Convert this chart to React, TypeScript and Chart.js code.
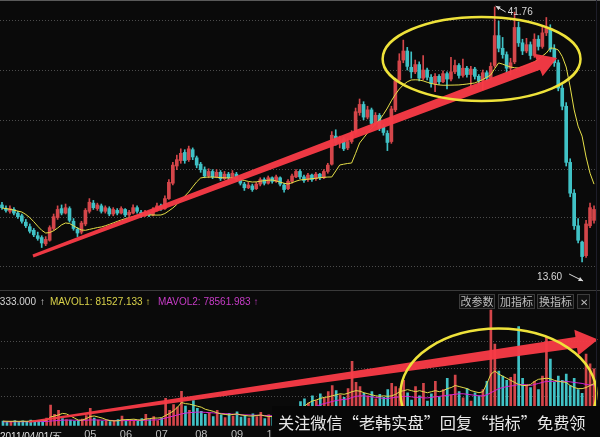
import React, { useEffect, useRef } from "react";
import { Chart, registerables } from "chart.js";
Chart.register(...registerables);

// ---------------- data ----------------
const opens = [
  19.9, 19.5, 19.2, 19.4, 19.0, 18.7, 18.0, 17.5, 17.1, 16.5,
  16.3, 15.6, 16.0, 17.3, 18.5, 19.5, 19.0, 19.5, 18.1, 17.2,
  16.9, 17.8, 19.2, 20.1, 19.5, 19.8, 19.2, 19.5, 18.9, 19.3,
  19.0, 19.4, 18.8, 19.0, 19.6, 19.1, 18.7, 19.1, 18.8, 19.3,
  19.8, 19.5, 20.6, 22.3, 24.2, 24.8, 25.7, 24.9, 26.0, 25.1,
  24.4, 23.8, 23.1, 23.6, 23.0, 23.5, 22.8, 23.3, 22.9, 23.3,
  22.7, 22.2, 21.8, 22.0, 21.7, 22.2, 22.7, 22.3, 22.9, 22.5,
  22.9, 22.1, 21.7, 22.5, 23.0, 23.6, 23.0, 22.7, 23.2, 22.8,
  23.3, 22.9, 23.6, 24.4, 27.5, 26.8, 27.2, 26.2, 26.9, 27.9,
  30.1, 31.0, 29.6, 30.4, 28.9, 29.8, 28.5, 27.8, 26.9, 30.4,
  33.7, 35.9, 36.9, 35.1, 34.6, 35.4, 33.9, 34.8, 34.0, 33.3,
  34.1, 33.5, 34.4, 33.8, 34.6, 35.3, 34.2, 35.0, 34.3, 34.9,
  34.1, 33.6, 34.5, 33.9, 35.3, 38.6, 37.2, 36.5, 35.0, 35.7,
  39.5, 37.8, 36.9, 37.6, 36.4, 38.2, 37.4, 38.9, 39.4, 37.1,
  35.6, 32.8, 30.8, 24.6, 21.2, 17.6, 15.8, 14.3, 17.6, 18.2,
];
const highs = [
  20.2, 19.8, 19.8, 19.6, 19.2, 18.9, 18.3, 17.8, 17.3, 16.9,
  16.5, 16.4, 17.6, 18.9, 19.8, 19.9, 20.0, 19.7, 18.4, 17.4,
  18.1, 19.5, 20.6, 20.4, 20.1, 20.0, 19.8, 19.7, 19.6, 19.5,
  19.7, 19.5, 19.3, 19.9, 19.8, 19.3, 19.3, 19.2, 19.6, 20.1,
  20.0, 20.9, 22.7, 24.6, 25.4, 26.1, 26.0, 26.4, 26.2, 25.3,
  24.6, 24.1, 23.9, 23.8, 23.8, 23.7, 23.6, 23.5, 23.7, 23.5,
  22.9, 22.4, 22.4, 22.2, 22.4, 22.9, 22.9, 23.1, 23.0, 23.2,
  23.0, 22.3, 22.7, 23.3, 23.8, 23.8, 23.2, 23.4, 23.3, 23.5,
  23.4, 23.8, 24.5, 28.0, 28.2, 27.5, 27.4, 27.2, 28.1, 30.6,
  31.6, 31.3, 30.8, 30.6, 30.1, 30.0, 28.8, 28.1, 30.8, 33.9,
  36.6, 38.1, 37.3, 36.8, 35.9, 35.7, 36.4, 35.0, 34.3, 34.4,
  34.3, 34.7, 34.6, 36.2, 35.9, 35.5, 36.0, 35.2, 35.2, 35.1,
  34.3, 34.8, 34.7, 35.6, 41.76, 40.2, 38.4, 36.8, 36.1, 41.2,
  40.1, 38.2, 38.3, 37.9, 38.8, 38.6, 39.6, 40.6, 39.8, 37.6,
  35.9, 33.2, 31.2, 25.0, 21.6, 18.4, 15.9, 18.2, 20.1, 19.8,
];
const lows = [
  19.4, 19.1, 19.0, 18.8, 18.4, 17.9, 17.4, 16.8, 16.4, 16.0,
  15.2, 15.4, 15.9, 17.1, 18.3, 18.8, 18.9, 18.0, 17.1, 16.4,
  16.7, 17.6, 19.0, 19.4, 19.3, 19.0, 19.0, 18.7, 18.7, 18.8,
  18.9, 18.6, 18.6, 18.9, 19.0, 18.5, 18.6, 18.6, 18.7, 19.2,
  19.3, 19.4, 20.5, 22.1, 23.8, 24.5, 24.5, 24.7, 24.9, 24.0,
  23.5, 22.9, 22.9, 22.8, 22.9, 22.6, 22.7, 22.7, 22.8, 22.5,
  22.1, 21.5, 21.7, 21.4, 21.6, 22.0, 22.1, 22.2, 22.3, 22.4,
  22.0, 21.3, 21.6, 22.3, 22.9, 22.8, 22.4, 22.5, 22.5, 22.6,
  22.7, 22.8, 23.4, 24.3, 26.5, 26.2, 25.9, 26.0, 26.7, 27.7,
  29.8, 29.3, 29.4, 28.6, 28.7, 28.1, 27.6, 25.9, 26.7, 30.2,
  33.5, 35.6, 34.8, 33.9, 34.4, 33.6, 33.7, 33.7, 32.9, 32.4,
  33.2, 33.4, 32.7, 33.6, 34.4, 33.9, 34.0, 34.0, 32.8, 33.8,
  33.2, 32.6, 33.6, 33.7, 35.1, 36.8, 36.1, 34.5, 34.3, 35.5,
  37.4, 36.5, 36.7, 36.0, 36.2, 37.0, 37.2, 38.6, 36.8, 35.2,
  32.5, 30.4, 24.2, 20.8, 17.2, 15.7, 13.6, 14.1, 17.4, 17.9,
];
const closes = [
  19.6, 19.3, 19.5, 19.0, 18.6, 18.1, 17.6, 17.0, 16.6, 16.2,
  15.7, 16.1, 17.4, 18.6, 19.4, 19.0, 19.6, 18.2, 17.3, 16.8,
  17.9, 19.3, 20.2, 19.6, 19.9, 19.2, 19.6, 18.9, 19.4, 19.0,
  19.5, 18.8, 19.1, 19.6, 19.2, 18.7, 19.1, 18.8, 19.4, 19.8,
  19.5, 20.6, 22.4, 24.3, 24.9, 25.6, 24.8, 26.1, 25.2, 24.3,
  23.8, 23.1, 23.6, 23.0, 23.5, 22.8, 23.3, 22.9, 23.4, 22.7,
  22.3, 21.8, 22.1, 21.6, 22.2, 22.7, 22.3, 22.9, 22.5, 23.0,
  22.2, 21.6, 22.5, 23.1, 23.6, 23.0, 22.6, 23.2, 22.7, 23.3,
  22.9, 23.6, 24.3, 27.6, 26.8, 27.2, 26.1, 26.9, 27.8, 30.2,
  31.0, 29.6, 30.4, 28.9, 29.8, 28.4, 27.9, 26.8, 30.5, 33.6,
  35.8, 36.9, 35.2, 34.6, 35.4, 33.9, 34.8, 34.0, 33.3, 34.1,
  33.5, 34.4, 33.8, 34.6, 35.3, 34.2, 35.0, 34.3, 34.9, 34.1,
  33.6, 34.5, 33.9, 35.2, 38.6, 37.2, 36.5, 35.0, 35.6, 39.5,
  37.8, 36.9, 37.6, 36.4, 38.2, 37.4, 38.9, 39.4, 37.1, 35.6,
  32.8, 30.8, 24.6, 21.2, 17.6, 16.0, 14.2, 17.8, 19.6, 19.4,
];
const priceMA = [
  19.56, 19.5, 19.42, 19.33, 19.22, 19.12, 18.85, 18.5, 18.05, 17.55,
  17.1, 16.8, 16.85, 17.05, 17.35, 17.7, 17.91, 17.85, 17.6, 17.35,
  17.13, 17.1, 17.2, 17.3, 17.4, 17.47, 17.6, 17.75, 17.92, 18.08,
  18.24, 18.38, 18.5, 18.62, 18.72, 18.79, 18.8, 18.8, 18.79, 18.78,
  18.79, 18.95, 19.25, 19.56, 19.95, 20.4, 20.88, 21.33, 21.9, 22.45,
  22.88, 22.95, 22.98, 22.98, 22.95, 22.92, 22.9, 22.88, 22.88, 22.8,
  22.7, 22.6, 22.5, 22.43, 22.45, 22.52, 22.58, 22.63, 22.66, 22.55,
  22.42, 22.3, 22.21, 22.35, 22.52, 22.66, 22.7, 22.75, 22.8, 22.85,
  22.9, 22.95, 22.98, 22.99, 23.65, 24.31, 24.4, 24.48, 24.53, 25.6,
  26.74, 27.3, 27.85, 28.35, 28.85, 29.28, 29.9, 30.6, 31.4, 32.1,
  32.7, 33.15, 33.5, 33.7, 33.72, 33.7, 33.6, 33.45, 33.32, 33.22,
  33.15, 33.12, 33.12, 33.13, 33.14, 33.15, 33.2, 33.25, 33.31, 33.37,
  33.55, 33.75, 34.0, 34.25, 34.95, 35.58, 35.45, 35.28, 35.13, 35.05,
  35.02, 35.15, 35.3, 35.5, 35.69, 36.0, 36.35, 36.68, 37.23, 37.2,
  37.01, 36.3, 35.13, 32.92, 30.39, 28.6, 27.5, 25.2, 23.4, 22.2,
];
const volumes = [
  9000, 7000, 8500, 10000, 7500, 9500, 8000, 11000, 9000, 10500,
  12000, 15000, 40000, 22000, 30000, 14000, 12000, 11000, 9000, 10000,
  13000, 20000, 34000, 15000, 11000, 9000, 10000, 8000, 9500, 12000,
  19000, 10000, 9000, 11000, 8500, 14000, 22000, 12000, 18000, 10000,
  15000, 53000, 30000, 41000, 36000, 66500, 38000, 30000, 49000, 34000,
  28000, 22000, 25000, 18000, 30000, 21000, 16000, 24000, 19000, 27000,
  17000, 20000, 15000, 23000, 18000, 26000, 14000, 21000, 17000, 12000,
  15000, 19000, 22000, 28000, 34000, 47000, 52000, 44000, 58000, 49000,
  62000, 54000, 66000, 78000, 68000, 60000, 55000, 72000, 125000, 84000,
  76000, 63000, 58000, 66000, 52000, 61000, 55000, 70000, 82000, 76000,
  72000, 88000, 64000, 50000, 76000, 58000, 82000, 48000, 62000, 86000,
  56000, 70000, 92000, 60000, 98000, 66000, 54000, 72000, 48000, 64000,
  58000, 70000, 86000, 224000, 158000, 106000, 96000, 88000, 94000, 100000,
  192000, 92000, 80000, 74000, 86000, 70000, 96000, 173000, 129000, 84000,
  96000, 88000, 100000, 78000, 92000, 70000, 63000, 139000, 120000, 110333,
];
const volMA1 = [
  9000, 8800, 8700, 8800, 8600, 8900, 8700, 9200, 9400, 9800,
  10200, 11000, 17000, 19000, 21000, 24000, 23000, 19000, 15000, 11000,
  11000, 14000, 18000, 19000, 17000, 15000, 12000, 10000, 9500, 9700,
  11500, 12000, 12200, 12800, 11500, 11000, 13000, 14000, 15000, 15000,
  15800, 20000, 24000, 29000, 36000, 45000, 43000, 42000, 40000, 38000,
  36000, 32000, 30000, 28000, 25000, 23000, 22000, 21000, 22000, 23000,
  21000, 20000, 19000, 19000, 20000, 21000, 19000, 18000, 18000, 17000,
  16000, 17000, 18000, 20000, 24000, 30000, 38000, 44000, 48000, 50000,
  53000, 55000, 56000, 58000, 60000, 62000, 61000, 63000, 66000, 68000,
  67000, 64000, 62000, 60000, 58000, 57000, 58000, 57000, 58000, 61000,
  66000, 68000, 70000, 68000, 66000, 68000, 66000, 64000, 66000, 68000,
  66000, 68000, 72000, 74000, 78000, 76000, 74000, 72000, 68000, 66000,
  64000, 66000, 82000, 100000, 106000, 100000, 96000, 92000, 88000, 84000,
  80000, 78000, 78000, 80000, 86000, 90000, 91000, 92000, 91000, 88000,
  86000, 85000, 84000, 78000, 74000, 72000, 72000, 74000, 78000, 81527.133,
];
const volMA2 = [
  7600, 7700, 7700, 7800, 7800, 7900, 7900, 8000, 8000, 8100,
  8200, 8400, 9200, 9800, 10400, 10800, 11000, 11000, 10800, 10600,
  10600, 10800, 11200, 11400, 11200, 11000, 10800, 10500, 10200, 10000,
  10000, 10100, 10200, 10300, 10400, 10500, 10800, 11000, 11300, 11600,
  13000, 15000, 17000, 19000, 21000, 23000, 24500, 25500, 26000, 26500,
  26500, 26000, 25500, 25000, 24500, 24000, 23500, 23000, 22500, 22000,
  21500, 21000, 21000, 20500, 20500, 20000, 20000, 19500, 19500, 19000,
  19000, 19500, 20000, 21000, 23000, 26000, 29000, 32000, 35000, 38000,
  41000, 43000, 45000, 47000, 49000, 50000, 51000, 52000, 55000, 57000,
  58000, 58000, 57000, 56000, 55000, 54000, 53000, 53000, 54000, 55000,
  56000, 57000, 57000, 56000, 55000, 55000, 54000, 54000, 55000, 56000,
  57000, 58000, 59000, 60000, 61000, 62000, 62000, 61000, 60000, 59000,
  58000, 58000, 60000, 64000, 68000, 72000, 74000, 76000, 77000, 78000,
  80000, 80000, 79000, 78000, 80000, 82000, 84000, 86000, 86000, 86000,
  86000, 86000, 86000, 85000, 84000, 83000, 82000, 80000, 79000, 78561.983,
];
const categories = opens.map((_, i) => String(i));
const monthTickIndex = [22, 31, 40, 50, 59, 68];
const monthTickLabels = ["05", "06", "07", "08", "09", "10"];
const priceGrid = [40.32, 34.8, 29.17, 23.76, 18.46, 13.05];
const volGrid = [57000, 110200, 163400];
const firstDateLabel = "2011/04/01/五";
const watermark = "关注微信“老韩实盘”回复“指标”免费领";
const buttonLabels = ["改参数", "加指标", "换指标", "✕"];

// ---------------- styling ----------------
const UP = "rgb(212,70,74)";
const DOWN = "rgb(64,194,198)";
const ARROW = "rgba(247,58,70,0.96)";
const OVAL = "#eee23a";
const candleColors = closes.map((c, i) => (c >= opens[i] ? UP : DOWN));

function drawArrow(ctx: CanvasRenderingContext2D, x0: number, y0: number, x1: number, y1: number, w0: number, w1: number, headW: number, headL: number) {
  const dx = x1 - x0, dy = y1 - y0, len = Math.hypot(dx, dy);
  const ux = dx / len, uy = dy / len, nx = -uy, ny = ux;
  const bx = x1 - ux * headL, by = y1 - uy * headL;
  ctx.beginPath();
  ctx.moveTo(x0 + (nx * w0) / 2, y0 + (ny * w0) / 2);
  ctx.lineTo(bx + (nx * w1) / 2, by + (ny * w1) / 2);
  ctx.lineTo(bx + (nx * headW) / 2, by + (ny * headW) / 2);
  ctx.lineTo(x1, y1);
  ctx.lineTo(bx - (nx * headW) / 2, by - (ny * headW) / 2);
  ctx.lineTo(bx - (nx * w1) / 2, by - (ny * w1) / 2);
  ctx.lineTo(x0 - (nx * w0) / 2, y0 - (ny * w0) / 2);
  ctx.closePath();
  ctx.fillStyle = ARROW;
  ctx.fill();
}

function drawSmallArrow(ctx: CanvasRenderingContext2D, x0: number, y0: number, x1: number, y1: number) {
  ctx.strokeStyle = "#d8d8d8";
  ctx.fillStyle = "#d8d8d8";
  ctx.lineWidth = 1;
  ctx.beginPath();
  ctx.moveTo(x0, y0);
  ctx.lineTo(x1, y1);
  ctx.stroke();
  const a = Math.atan2(y1 - y0, x1 - x0);
  ctx.beginPath();
  ctx.moveTo(x1, y1);
  ctx.lineTo(x1 - 5 * Math.cos(a - 0.45), y1 - 5 * Math.sin(a - 0.45));
  ctx.lineTo(x1 - 5 * Math.cos(a + 0.45), y1 - 5 * Math.sin(a + 0.45));
  ctx.closePath();
  ctx.fill();
}

const priceAnnot = {
  id: "priceAnnot",
  afterDatasetsDraw(chart: any) {
    const { ctx, scales } = chart;
    const x = scales.x, y = scales.y;
    ctx.save();
    drawArrow(ctx, x.getPixelForValue(7.8), y.getPixelForValue(14.26), x.getPixelForValue(139.7), y.getPixelForValue(36.13), 3, 10, 24, 20);
    const cx = x.getPixelForValue(120.7), cy = y.getPixelForValue(36.02);
    const rx = x.getPixelForValue(120.7 + 24.9) - cx;
    const ry = y.getPixelForValue(36.02 - 4.64) - cy;
    ctx.beginPath();
    ctx.ellipse(cx, cy, rx, ry, 0, 0, Math.PI * 2);
    ctx.strokeStyle = OVAL;
    ctx.lineWidth = 2.5;
    ctx.stroke();
    const hi = Math.max(...highs), lo = Math.min(...lows);
    const hiI = highs.indexOf(hi), loI = lows.indexOf(lo);
    const hx = x.getPixelForValue(hiI), hy = y.getPixelForValue(hi);
    const lx = x.getPixelForValue(loI), ly = y.getPixelForValue(lo);
    ctx.font = "10px 'Liberation Sans', Arial, sans-serif";
    ctx.fillStyle = "#d8d8d8";
    ctx.textBaseline = "middle";
    ctx.textAlign = "left";
    ctx.fillText(hi.toFixed(2), hx + 13, hy + 5);
    drawSmallArrow(ctx, hx + 11, hy + 5, hx + 1, hy - 1);
    ctx.fillStyle = "#d8d8d8";
    ctx.textAlign = "right";
    ctx.fillText(lo.toFixed(2), lx - 20, ly + 15);
    drawSmallArrow(ctx, lx - 13, ly + 12, lx + 1, ly + 19);
    ctx.restore();
  },
};

const volAnnot = {
  id: "volAnnot",
  afterDatasetsDraw(chart: any) {
    const { ctx, scales } = chart;
    const x = scales.x, y = scales.y;
    ctx.save();
    drawArrow(ctx, x.getPixelForValue(6.5), y.getPixelForValue(7600), x.getPixelForValue(150.0), y.getPixelForValue(167200), 2, 11, 26, 22);
    const cx = x.getPixelForValue(124.9), cy = y.getPixelForValue(62700);
    const rx = x.getPixelForValue(124.9 + 24.7) - cx;
    const ry = y.getPixelForValue(62700 - 125400) - cy;
    ctx.beginPath();
    ctx.ellipse(cx, cy, rx, ry, 0, 0, Math.PI * 2);
    ctx.strokeStyle = OVAL;
    ctx.lineWidth = 2.5;
    ctx.stroke();
    ctx.restore();
  },
};

export default function App() {
  const priceRef = useRef<HTMLCanvasElement>(null);
  const volRef = useRef<HTMLCanvasElement>(null);

  useEffect(() => {
    const bodies = opens.map((o, i) => [Math.min(o, closes[i]), Math.max(o, closes[i])]);
    const wicks = lows.map((l, i) => [l, highs[i]]);
    const priceChart = new Chart(priceRef.current as HTMLCanvasElement, {
      type: "bar",
      data: {
        labels: categories,
        datasets: [
          { type: "line", data: priceMA, borderColor: "#e6df48", borderWidth: 1, pointRadius: 0, tension: 0, order: 0 } as any,
          { data: bodies as any, backgroundColor: candleColors, barThickness: 3, grouped: false, borderWidth: 0, order: 1 },
          { data: wicks as any, backgroundColor: candleColors, barThickness: 1, grouped: false, borderWidth: 0, order: 2 },
        ],
      },
      options: {
        animation: false,
        responsive: false,
        maintainAspectRatio: false,
        layout: { padding: { top: 2, bottom: 5, left: 0, right: 4 } },
        plugins: { legend: { display: false }, tooltip: { enabled: false } },
        scales: {
          x: { display: false },
          y: {
            min: 11.06,
            max: 42.31,
            ticks: { display: false },
            grid: { color: "#4c4c4c", drawTicks: false, lineWidth: 1 },
            border: { display: false, dash: [1, 2] },
            afterBuildTicks: (s: any) => {
              s.ticks = priceGrid.map((v) => ({ value: v }));
            },
          },
        },
      },
      plugins: [priceAnnot],
    });

    const volChart = new Chart(volRef.current as HTMLCanvasElement, {
      type: "bar",
      data: {
        labels: categories,
        datasets: [
          { type: "line", data: volMA1, borderColor: "#e4dc4a", borderWidth: 1, pointRadius: 0, tension: 0, order: 0 } as any,
          { type: "line", data: volMA2, borderColor: "#d424d4", borderWidth: 1, pointRadius: 0, tension: 0, order: 1 } as any,
          { data: volumes, backgroundColor: candleColors, barThickness: 2, borderWidth: 0, order: 2 },
        ],
      },
      options: {
        animation: false,
        responsive: false,
        maintainAspectRatio: false,
        layout: { padding: { top: 16, bottom: 2, left: 0, right: 4 } },
        plugins: { legend: { display: false }, tooltip: { enabled: false } },
        scales: {
          x: {
            grid: { display: false, drawTicks: false },
            border: { display: false },
            ticks: {
              autoSkip: false,
              maxRotation: 0,
              padding: 3,
              color: "#bcbcbc",
              font: { size: 11, family: "'Liberation Sans', Arial, sans-serif" },
              callback: (_v: any, idx: number) => {
                const k = monthTickIndex.indexOf(idx);
                return k >= 0 ? monthTickLabels[k] : "";
              },
            },
          },
          y: {
            min: 0,
            max: 228000,
            ticks: { display: false },
            grid: { color: "#4c4c4c", drawTicks: false, lineWidth: 1 },
            border: { display: false, dash: [1, 2] },
            afterBuildTicks: (s: any) => {
              s.ticks = volGrid.map((v) => ({ value: v }));
            },
          },
        },
      },
      plugins: [volAnnot],
    });

    return () => {
      priceChart.destroy();
      volChart.destroy();
    };
  }, []);

  const last = volumes.length - 1;
  const sans = "'Liberation Sans', Arial, sans-serif";
  const cjk = "'Noto Sans CJK SC', sans-serif";
  const btnPos = [
    { l: 459, w: 36 },
    { l: 498, w: 37 },
    { l: 537, w: 37 },
    { l: 577, w: 13 },
  ];

  return (
    <div style={{ position: "fixed", left: 0, top: 0, width: 600, height: 437, background: "#0a0a0a", overflow: "hidden" }}>
      <canvas ref={priceRef} width={600} height={290} style={{ position: "absolute", left: 0, top: 0 }} />
      <canvas ref={volRef} width={600} height={155} style={{ position: "absolute", left: 0, top: 292 }} />
      <div style={{ position: "absolute", left: 0, top: 0, width: 600, height: 1, background: "#5a5a5a" }} />
      <div style={{ position: "absolute", left: 0, top: 290, width: 600, height: 1, background: "#3a3a3a" }} />
      <div style={{ position: "absolute", left: 596, top: 0, width: 1, height: 437, background: "#1e1e2a" }} />
      <div style={{ position: "absolute", left: 0, top: 296, width: 36, height: 14, overflow: "hidden", font: `10px ${sans}` }}>
        <div style={{ position: "absolute", right: 0, top: 0, whiteSpace: "nowrap", color: "#d6d6d6" }}>
          {"VOLUME: " + volumes[last].toFixed(3)}
        </div>
      </div>
      <div style={{ position: "absolute", left: 40, top: 296, font: `10px ${sans}`, color: "#d6d6d6" }}>↑</div>
      <div style={{ position: "absolute", left: 50, top: 296, font: `10px ${sans}`, color: "#d9d24a", whiteSpace: "nowrap" }}>
        {"MAVOL1: " + volMA1[last].toFixed(3) + "  ↑"}
      </div>
      <div style={{ position: "absolute", left: 158, top: 296, font: `10px ${sans}`, color: "#c73cc7", whiteSpace: "nowrap" }}>
        {"MAVOL2: " + volMA2[last].toFixed(3) + "  ↑"}
      </div>
      {buttonLabels.map((t, i) => (
        <div
          key={t}
          style={{
            position: "absolute",
            left: btnPos[i].l,
            top: 294,
            width: btnPos[i].w,
            height: 15,
            boxSizing: "border-box",
            border: "1px solid #3c3c3c",
            background: "#111111",
            color: "#bdbdbd",
            font: `${i === 3 ? 10 : 11}px ${cjk}`,
            lineHeight: "13px",
            textAlign: "center",
            whiteSpace: "nowrap",
          }}
        >
          {t}
        </div>
      ))}
      <div style={{ position: "absolute", left: 0, top: 430, font: `10px ${sans}`, color: "#e2e2e2", whiteSpace: "nowrap" }}>
        {firstDateLabel}
      </div>
      <div style={{ position: "absolute", left: 272, top: 406, width: 328, height: 31, background: "#070707" }} />
      <div style={{ position: "absolute", left: 278, top: 410, font: `16.2px ${cjk}`, color: "#e8e8e8", whiteSpace: "nowrap", lineHeight: "24px" }}>
        {watermark}
      </div>
    </div>
  );
}
